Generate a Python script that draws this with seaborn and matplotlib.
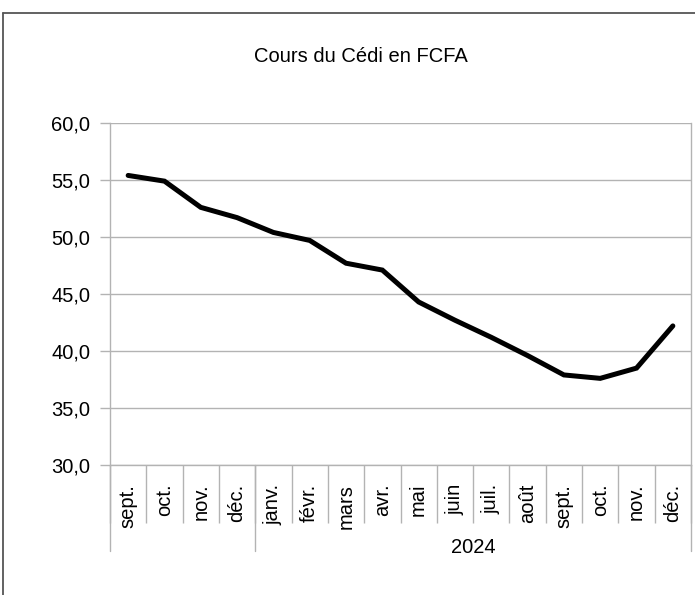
import numpy as np
import matplotlib
matplotlib.use("Agg")
import matplotlib.pyplot as plt
from matplotlib.lines import Line2D
from matplotlib.ticker import FixedLocator, FuncFormatter
import seaborn as sns
import pandas as pd

# data
months = ["sept.", "oct.", "nov.", "déc.", "janv.", "févr.", "mars", "avr.",
          "mai", "juin", "juil.", "août", "sept.", "oct.", "nov.", "déc."]
cours = [55.4, 54.9, 52.6, 51.7, 50.4, 49.7, 47.7, 47.1,
         44.3, 42.7, 41.2, 39.6, 37.9, 37.6, 38.5, 42.2]
year_label = "2024"
year_start = 4  # index of janv.

df = pd.DataFrame({"pos": np.arange(len(months)), "cours": cours})

sns.set_style("white")
plt.rcParams["font.family"] = ["Liberation Sans", "DejaVu Sans"]

grey = "#b3b3b3"
fs = 14.5
fig = plt.figure(figsize=(6.95, 5.95), dpi=100)
ax = fig.add_axes([110 / 695, 130 / 595, 581 / 695, 342 / 595])

sns.lineplot(data=df, x="pos", y="cours", color="black", linewidth=3.6,
             ax=ax, solid_joinstyle="miter")

ax.set_ylim(30, 60)
ax.set_xlim(-0.5, len(months) - 0.5)
ax.set_yticks(np.arange(30, 61, 5))
ax.yaxis.set_major_formatter(FuncFormatter(lambda v, p: f"{v:.1f}".replace(".", ",")))
ax.grid(axis="y", color=grey, linewidth=1)
ax.set_axisbelow(True)

ax.set_xticks(df["pos"])
ax.set_xticklabels(months, rotation=90, va="top")
ax.xaxis.set_minor_locator(FixedLocator(np.arange(-0.5, len(months), 1)))
ax.tick_params(axis="x", which="major", length=0, pad=13.5, labelsize=fs,
               labelcolor="black")
ax.tick_params(axis="x", which="minor", bottom=True, length=42, width=1,
               color=grey, direction="out")
ax.tick_params(axis="y", length=7.2, width=1, color=grey, direction="out",
               pad=7, labelsize=fs, left=True, labelcolor="black")
ax.set_xlabel("")
ax.set_ylabel("")

for side in ["left", "right", "bottom"]:
    ax.spines[side].set_color(grey)
    ax.spines[side].set_linewidth(1)
ax.spines["top"].set_visible(False)

# group separators below the month labels
trans = ax.get_xaxis_transform()
for b in [-0.5, year_start - 0.5, len(months) - 0.5]:
    ax.plot([b, b], [0, -0.2515], color=grey, linewidth=1, transform=trans, clip_on=False)
ax.text((year_start - 0.5 + len(months) - 0.5) / 2, -0.2415, year_label, transform=trans,
        ha="center", va="center", fontsize=fs, color="black")

fig.text(361 / 695, 1 - 57 / 595, "Cours du Cédi en FCFA", ha="center", va="center",
         fontsize=14.5, color="black")

# outer chart frame (partly cropped)
fig.add_artist(Line2D([3 / 695, 1], [1 - 13 / 595, 1 - 13 / 595], color="#555555",
                      linewidth=1.3, transform=fig.transFigure))
fig.add_artist(Line2D([3 / 695, 3 / 695], [0, 1 - 13 / 595], color="#555555",
                      linewidth=1.3, transform=fig.transFigure))

fig.savefig("out.png", dpi=100)
